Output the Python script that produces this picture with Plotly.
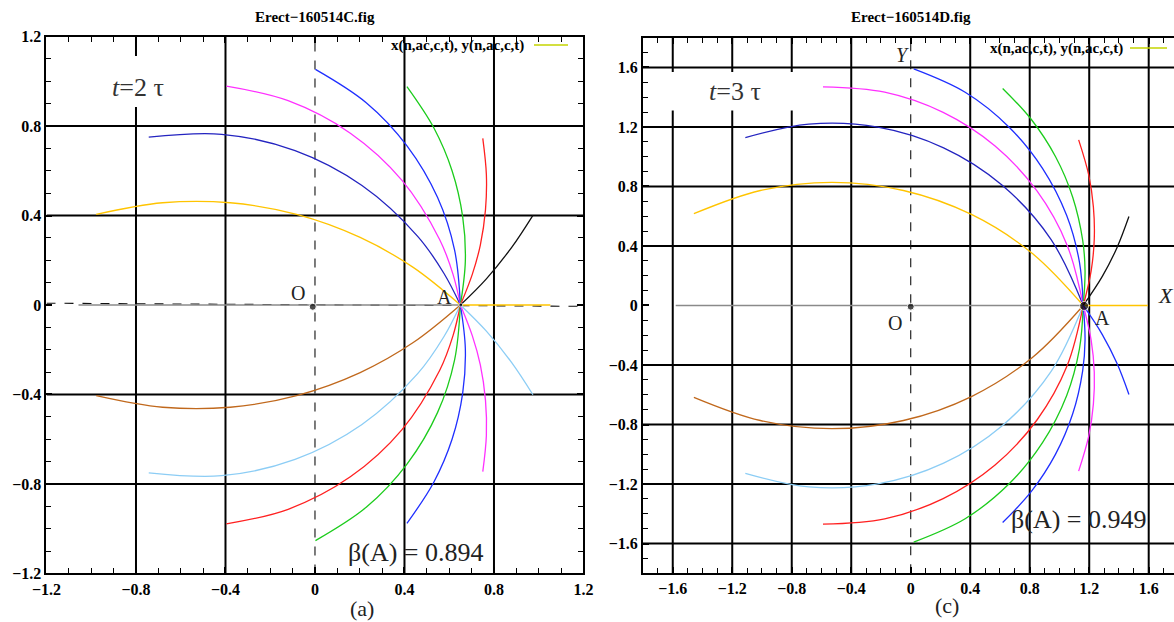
import plotly.graph_objects as go

# ---------------- data: panel (a), t = 2 tau ----------------
A_TICKS = [-1.2, -0.8, -0.4, 0, 0.4, 0.8, 1.2]
A_TICKTEXT = ["\u22121.2", "\u22120.8", "\u22120.4", "0", "0.4", "0.8", "1.2"]
A_GRID = [-0.8, -0.4, 0.4, 0.8]

a_yellow_x = [-0.978, -0.681, -0.379, -0.082, 0.202, 0.439, 0.650]
a_yellow_y = [0.405, 0.457, 0.457, 0.405, 0.302, 0.168, 0.0]
a_brown_x = [-0.978, -0.681, -0.379, -0.082, 0.202, 0.439, 0.650]
a_brown_y = [-0.405, -0.457, -0.457, -0.405, -0.302, -0.168, 0.0]
a_navy_x = [-0.743, -0.417, -0.089, 0.210, 0.459, 0.576, 0.650]
a_navy_y = [0.750, 0.763, 0.690, 0.534, 0.307, 0.142, 0.0]
a_lblue_x = [-0.743, -0.417, -0.089, 0.210, 0.459, 0.576, 0.650]
a_lblue_y = [-0.750, -0.763, -0.690, -0.534, -0.307, -0.142, 0.0]
a_magenta_x = [-0.396, -0.120, 0.158, 0.389, 0.557, 0.617, 0.650]
a_magenta_y = [0.978, 0.913, 0.768, 0.557, 0.293, 0.137, 0.0]
a_red2_x = [-0.396, -0.120, 0.158, 0.389, 0.557, 0.617, 0.650]
a_red2_y = [-0.978, -0.913, -0.768, -0.557, -0.293, -0.137, 0.0]
a_blue_x = [0.002, 0.229, 0.412, 0.548, 0.624, 0.650]
a_blue_y = [1.053, 0.904, 0.710, 0.480, 0.245, 0.0]
a_green2_x = [0.002, 0.229, 0.412, 0.548, 0.624, 0.650]
a_green2_y = [-1.053, -0.904, -0.710, -0.480, -0.245, 0.0]
a_green_x = [0.411, 0.531, 0.613, 0.660, 0.672, 0.650]
a_green_y = [0.976, 0.792, 0.599, 0.395, 0.196, 0.0]
a_blue2_x = [0.411, 0.531, 0.613, 0.660, 0.672, 0.650]
a_blue2_y = [-0.976, -0.792, -0.599, -0.395, -0.196, 0.0]
a_red_x = [0.750, 0.766, 0.762, 0.739, 0.703, 0.650]
a_red_y = [0.745, 0.583, 0.425, 0.268, 0.137, 0.0]
a_magenta2_x = [0.750, 0.766, 0.762, 0.739, 0.703, 0.650]
a_magenta2_y = [-0.745, -0.583, -0.425, -0.268, -0.137, 0.0]
a_black_x = [0.650, 0.766, 0.880, 0.974]
a_black_y = [0.0, 0.117, 0.259, 0.401]
a_lblue2_x = [0.650, 0.766, 0.880, 0.974]
a_lblue2_y = [0.0, -0.117, -0.259, -0.401]
a_gray_x = [-1.057, 0.650]
a_gray_y = [0.0, 0.0]
a_yel0_x = [0.650, 1.052]
a_yel0_y = [0.0, 0.0]
a_dash_h_x = [-1.2, 1.2]
a_dash_h_y = [0.008, -0.006]
a_dash_v_x = [0.0, 0.0]
a_dash_v_y = [-1.2, 1.2]
a_pts_x = [-0.01, 0.652]
a_pts_y = [-0.008, 0.0]

# ---------------- data: panel (c), t = 3 tau ----------------
C_TICKS = [-1.6, -1.2, -0.8, -0.4, 0, 0.4, 0.8, 1.2, 1.6]
C_TICKTEXT = ["\u22121.6", "\u22121.2", "\u22120.8", "\u22120.4", "0", "0.4", "0.8", "1.2", "1.6"]
C_GRID = [-1.6, -1.2, -0.8, -0.4, 0.4, 0.8, 1.2, 1.6]

c_yellow_x = [-1.458, -1.011, -0.530, -0.049, 0.408, 0.816, 1.160]
c_yellow_y = [0.617, 0.773, 0.828, 0.773, 0.612, 0.351, 0.0]
c_brown_x = [-1.458, -1.011, -0.530, -0.049, 0.408, 0.816, 1.160]
c_brown_y = [-0.617, -0.773, -0.828, -0.773, -0.612, -0.351, 0.0]
c_navy_x = [-1.112, -0.685, -0.221, 0.221, 0.613, 0.944, 1.160]
c_navy_y = [1.128, 1.219, 1.199, 1.060, 0.810, 0.443, 0.0]
c_lblue_x = [-1.112, -0.685, -0.221, 0.221, 0.613, 0.944, 1.160]
c_lblue_y = [-1.128, -1.219, -1.199, -1.060, -0.810, -0.443, 0.0]
c_magenta_x = [-0.590, -0.175, 0.218, 0.567, 0.850, 1.052, 1.160]
c_magenta_y = [1.470, 1.434, 1.298, 1.072, 0.768, 0.404, 0.0]
c_red2_x = [-0.590, -0.175, 0.218, 0.567, 0.850, 1.052, 1.160]
c_red2_y = [-1.470, -1.434, -1.298, -1.072, -0.768, -0.404, 0.0]
c_blue_x = [0.020, 0.366, 0.665, 0.887, 1.048, 1.134, 1.160]
c_blue_y = [1.590, 1.433, 1.195, 0.920, 0.606, 0.293, 0.0]
c_green2_x = [0.020, 0.366, 0.665, 0.887, 1.048, 1.134, 1.160]
c_green2_y = [-1.590, -1.433, -1.195, -0.920, -0.606, -0.293, 0.0]
c_green_x = [0.618, 0.811, 0.973, 1.089, 1.156, 1.172, 1.160]
c_green_y = [1.459, 1.250, 1.001, 0.728, 0.439, 0.231, 0.0]
c_blue2_x = [0.618, 0.811, 0.973, 1.089, 1.156, 1.172, 1.160]
c_blue2_y = [-1.459, -1.250, -1.001, -0.728, -0.439, -0.231, 0.0]
c_red_x = [1.129, 1.197, 1.228, 1.234, 1.213, 1.160]
c_red_y = [1.113, 0.876, 0.663, 0.448, 0.233, 0.0]
c_magenta2_x = [1.129, 1.197, 1.228, 1.234, 1.213, 1.160]
c_magenta2_y = [-1.113, -0.876, -0.663, -0.448, -0.233, 0.0]
c_black_x = [1.160, 1.289, 1.388, 1.467]
c_black_y = [0.0, 0.197, 0.392, 0.598]
c_blue3_x = [1.160, 1.289, 1.388, 1.467]
c_blue3_y = [0.0, -0.197, -0.392, -0.598]
c_gray_x = [-1.58, 1.160]
c_gray_y = [0.0, 0.0]
c_yel0_x = [1.160, 1.594]
c_yel0_y = [0.0, 0.0]
c_dash_v_x = [0.0, 0.0]
c_dash_v_y = [-1.8, 1.8]
c_pts_x = [0.0, 1.166]
c_pts_y = [-0.008, -0.003]

# ---------------- styles ----------------
YELLOW = "#ffc400"
BROWN = "#c0681c"
NAVY = "#2424c0"
LBLUE = "#8ccdf5"
MAGENTA = "#ff30ff"
BLUE = "#1f2fff"
GREEN = "#1ccc1c"
RED = "#ff2020"
BLACK = "#111111"
GRAY = "#8a8a8a"
SERIF = "Liberation Serif"

fig = go.Figure()


def curve(x, y, color, xa, ya, width=1.3, dash=None, shape="spline"):
    fig.add_trace(go.Scatter(
        x=x, y=y, mode="lines", xaxis=xa, yaxis=ya, showlegend=False,
        hoverinfo="skip",
        line=dict(color=color, width=width, dash=dash, shape=shape)))


# panel (a)
curve(a_dash_h_x, a_dash_h_y, BLACK, "x", "y", 1.1, "dash", "linear")
curve(a_dash_v_x, a_dash_v_y, BLACK, "x", "y", 1.1, "dash", "linear")
curve(a_gray_x, a_gray_y, GRAY, "x", "y", 1.3, None, "linear")
curve(a_yel0_x, a_yel0_y, YELLOW, "x", "y", 1.3, None, "linear")
for cx, cy, col in [
    (a_yellow_x, a_yellow_y, YELLOW), (a_brown_x, a_brown_y, BROWN),
    (a_navy_x, a_navy_y, NAVY), (a_lblue_x, a_lblue_y, LBLUE),
    (a_magenta_x, a_magenta_y, MAGENTA), (a_red2_x, a_red2_y, RED),
    (a_blue_x, a_blue_y, BLUE), (a_green2_x, a_green2_y, GREEN),
    (a_green_x, a_green_y, GREEN), (a_blue2_x, a_blue2_y, BLUE),
    (a_red_x, a_red_y, RED), (a_magenta2_x, a_magenta2_y, MAGENTA),
    (a_black_x, a_black_y, BLACK), (a_lblue2_x, a_lblue2_y, LBLUE)]:
    curve(cx, cy, col, "x", "y")
fig.add_trace(go.Scatter(x=a_pts_x, y=a_pts_y, mode="markers", xaxis="x", yaxis="y",
                         showlegend=False, hoverinfo="skip",
                         marker=dict(color="black", size=[7, 4])))

# panel (c)
curve(c_dash_v_x, c_dash_v_y, BLACK, "x2", "y2", 1.1, "dash", "linear")
curve(c_gray_x, c_gray_y, GRAY, "x2", "y2", 1.3, None, "linear")
curve(c_yel0_x, c_yel0_y, YELLOW, "x2", "y2", 1.3, None, "linear")
for cx, cy, col in [
    (c_yellow_x, c_yellow_y, YELLOW), (c_brown_x, c_brown_y, BROWN),
    (c_navy_x, c_navy_y, NAVY), (c_lblue_x, c_lblue_y, LBLUE),
    (c_magenta_x, c_magenta_y, MAGENTA), (c_red2_x, c_red2_y, RED),
    (c_blue_x, c_blue_y, BLUE), (c_green2_x, c_green2_y, GREEN),
    (c_green_x, c_green_y, GREEN), (c_blue2_x, c_blue2_y, BLUE),
    (c_red_x, c_red_y, RED), (c_magenta2_x, c_magenta2_y, MAGENTA),
    (c_black_x, c_black_y, BLACK), (c_blue3_x, c_blue3_y, BLUE)]:
    curve(cx, cy, col, "x2", "y2")
fig.add_trace(go.Scatter(x=c_pts_x, y=c_pts_y, mode="markers", xaxis="x2", yaxis="y2",
                         showlegend=False, hoverinfo="skip",
                         marker=dict(color="black", size=[7, 9])))

# ---------------- axes ----------------
def axis_style(tickvals, ticktext, rng, domain, anchor, mirror="allticks"):
    return dict(
        domain=domain, range=rng, anchor=anchor, autorange=False, automargin=False,
        tickmode="array", tickvals=tickvals, ticktext=ticktext,
        showline=True, linewidth=2, linecolor="black", mirror=mirror,
        ticks="inside", ticklen=6, tickwidth=2, tickcolor="black",
        showgrid=False, zeroline=False,
        tickfont=dict(family=SERIF, size=16, color="black", weight="bold"),
        minor=dict(tick0=0, dtick=0.1, ticks="inside", ticklen=5, tickwidth=1.3,
                   tickcolor="black", showgrid=False),
    )


fig.update_layout(
    width=1174, height=622,
    margin=dict(l=0, r=0, t=0, b=0, autoexpand=False),
    paper_bgcolor="white", plot_bgcolor="white",
    showlegend=False,
    xaxis=axis_style(A_TICKS, A_TICKTEXT, [-1.2, 1.2], [0.0396, 0.4970], "y"),
    yaxis=axis_style(A_TICKS, A_TICKTEXT, [-1.2, 1.2], [0.0780, 0.9413], "x"),
    xaxis2=axis_style(C_TICKS, C_TICKTEXT, [-1.8, 1.770], [0.5477, 1.0], "y2"),
    yaxis2=axis_style(C_TICKS, C_TICKTEXT, [-1.8, 1.8], [0.0783, 0.9394], "x2", mirror=False),
)

shapes = []
for v in A_GRID:
    shapes.append(dict(type="line", xref="x", yref="y", x0=v, x1=v, y0=-1.2, y1=1.2,
                       line=dict(color="black", width=2), layer="below"))
    shapes.append(dict(type="line", xref="x", yref="y", x0=-1.2, x1=1.2, y0=v, y1=v,
                       line=dict(color="black", width=2), layer="below"))
for v in C_GRID:
    shapes.append(dict(type="line", xref="x2", yref="y2", x0=v, x1=v, y0=-1.8, y1=1.8,
                       line=dict(color="black", width=2), layer="below"))
    shapes.append(dict(type="line", xref="x2", yref="y2", x0=-1.8, x1=1.8, y0=v, y1=v,
                       line=dict(color="black", width=2), layer="below"))
# white boxes behind the time labels
shapes.append(dict(type="rect", xref="x", yref="y", x0=-1.05, x1=-0.5, y0=0.885, y1=1.113,
                   fillcolor="white", line=dict(width=0), layer="below"))
shapes.append(dict(type="rect", xref="x2", yref="y2", x0=-1.7, x1=-0.7, y0=1.31, y1=1.57,
                   fillcolor="white", line=dict(width=0), layer="below"))
# legend samples
shapes.append(dict(type="line", xref="paper", yref="paper", x0=534 / 1174, x1=568 / 1174,
                   y0=(622 - 45) / 622, y1=(622 - 45) / 622,
                   line=dict(color="#c4d400", width=1.5)))
shapes.append(dict(type="line", xref="paper", yref="paper", x0=1130 / 1174, x1=1167 / 1174,
                   y0=(622 - 48) / 622, y1=(622 - 48) / 622,
                   line=dict(color="#c4d400", width=1.5)))
fig.update_layout(shapes=shapes)

ann = []


def text(x, y, s, size, xref="x", yref="y", color="#222222", xanchor="center",
         yanchor="middle", weight="normal"):
    ann.append(dict(x=x, y=y, xref=xref, yref=yref, text=s, showarrow=False,
                    xanchor=xanchor, yanchor=yanchor,
                    font=dict(family=SERIF, size=size, color=color, weight=weight)))


# titles
text(315 / 1174, (622 - 17) / 622, "Erect\u2212160514C.fig", 15, "paper", "paper", "black", weight="bold")
text(911 / 1174, (622 - 17) / 622, "Erect\u2212160514D.fig", 15, "paper", "paper", "black", weight="bold")
# legends
text(526 / 1174, (622 - 45) / 622, "x(n,ac,c,t), y(n,ac,c,t)", 15, "paper", "paper", "black",
     xanchor="right", weight="bold")
text(1125 / 1174, (622 - 48) / 622, "x(n,ac,c,t), y(n,ac,c,t)", 15, "paper", "paper", "black",
     xanchor="right", weight="bold")
# panel labels
text(362 / 1174, (622 - 608) / 622, "(a)", 22, "paper", "paper", "#222222")
text(947 / 1174, (622 - 605) / 622, "(c)", 22, "paper", "paper", "#222222")
# panel (a) texts
text(-0.79, 0.97, "<i>t</i>=2 \u03c4", 26, "x", "y", "#333333")
text(-0.076, 0.055, "O", 20, "x", "y")
text(0.577, 0.036, "A", 20, "x", "y")
text(0.451, -1.108, "\u03b2(A) = 0.894", 26, "x", "y")
# panel (c) texts
text(-1.181, 1.437, "<i>t</i>=3 \u03c4", 26, "x2", "y2", "#333333")
text(-0.052, 1.684, "<i>Y</i>", 20, "x2", "y2")
text(1.717, 0.064, "<i>X</i>", 22, "x2", "y2")
text(-0.106, -0.116, "O", 20, "x2", "y2")
text(1.292, -0.082, "A", 20, "x2", "y2")
text(1.125, -1.441, "\u03b2(A) = 0.949", 26, "x2", "y2")
fig.update_layout(annotations=ann)

fig.write_html(
    "out.html",
    config={"displayModeBar": False},
    post_script="document.body.style.margin='0';document.body.style.overflow='hidden';",
)
